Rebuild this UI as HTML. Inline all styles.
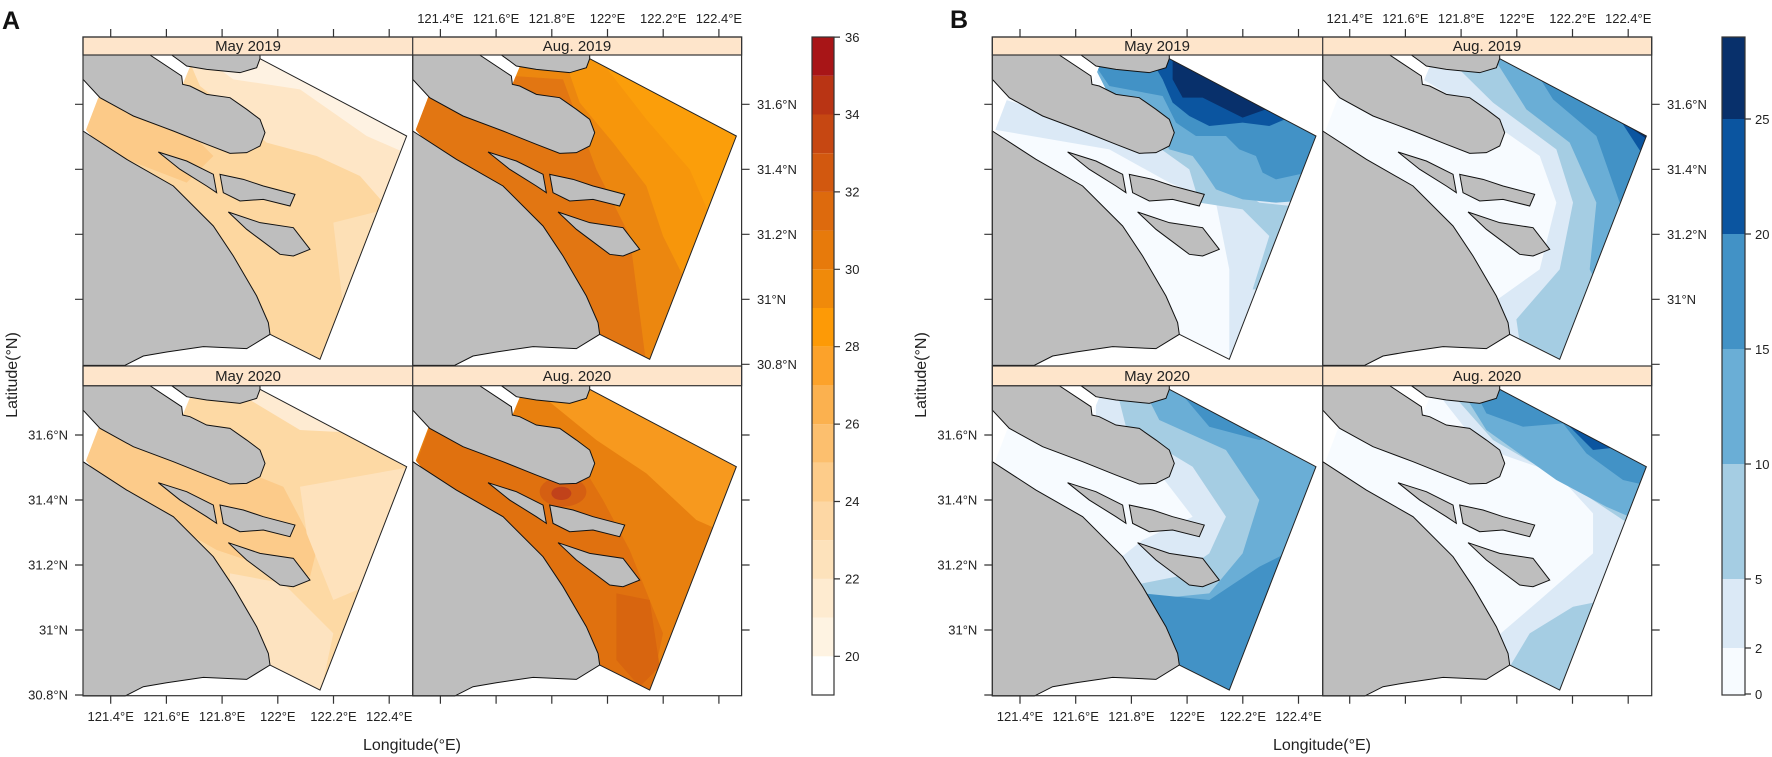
<!DOCTYPE html>
<html><head><meta charset="utf-8"><style>
html,body{margin:0;padding:0;background:#fff}
svg{display:block}
text{font-family:"Liberation Sans",Arial,sans-serif;fill:#222}
</style></head><body>
<svg width="1772" height="757" viewBox="0 0 1772 757" xmlns="http://www.w3.org/2000/svg">
<defs>
<clipPath id="wc"><polygon points="258,482 300,372 548,345 575,280 780,268 1220,500 960,1170 810,1095"/></clipPath>
<g id="land" fill="#bebebe" stroke="#111" stroke-width="3">
<polygon points="249,257 450,257 545,320 548,345 570,350 620,375 690,385 740,420 780,450 795,490 780,530 740,550 690,552 620,525 520,485 400,440 300,385 249,330"/>
<polygon points="515,257 540,275 560,290 620,300 720,310 770,295 780,268 780,257"/>
<polygon points="249,485 380,570 520,650 640,770 700,860 770,980 805,1060 810,1095 740,1138 610,1132 500,1148 430,1160 375,1188 249,1188"/>
<polygon points="475,548 560,575 640,615 650,670 620,650 540,600"/>
<polygon points="660,615 730,630 790,650 885,675 870,710 790,690 720,695 670,670"/>
<polygon points="685,728 780,760 880,775 930,840 880,860 840,855 780,810 740,780"/>
</g>
<polyline id="wl" points="780,268 1220,500 960,1170 810,1095" fill="none" stroke="#222" stroke-width="3"/>
</defs>

<g transform="translate(83,55) scale(0.33333) translate(-249,-257)">
<g clip-path="url(#wc)"><rect x="249" y="257" width="988" height="931" fill="#fdd7a0"/>
<polygon fill="#fcca88" points="249,380 500,420 640,560 560,640 249,520"/>
<polygon fill="#fee6c6" points="560,257 1237,257 1237,700 1150,700 1080,620 950,560 800,520 700,430 600,350"/>
<polygon fill="#fef2e2" points="600,257 1237,257 1237,560 1100,500 900,360 700,330"/>
<polygon fill="#fde0b6" points="1000,760 1237,700 1237,1188 1050,1188"/>
</g>
<use href="#land"/><use href="#wl"/></g>
<g transform="translate(412.7,55) scale(0.33333) translate(-249,-257)">
<g clip-path="url(#wc)"><rect x="249" y="257" width="988" height="931" fill="#ec870f"/>
<polygon fill="#e27612" points="249,300 700,330 800,600 900,800 950,1188 249,1188"/>
<polygon fill="#f7960b" points="700,257 1237,257 1237,1000 1100,1000 1000,800 950,650 850,520 750,400"/>
<polygon fill="#fb9e0a" points="800,257 1237,257 1237,800 1150,760 1080,600 950,450"/>
</g>
<use href="#land"/><use href="#wl"/></g>
<g transform="translate(83,385.7) scale(0.33333) translate(-249,-257)">
<g clip-path="url(#wc)"><rect x="249" y="257" width="988" height="931" fill="#fdd9a4"/>
<polygon fill="#fccb8a" points="249,350 560,350 700,500 850,560 950,750 930,830 800,800 650,750 249,520"/>
<polygon fill="#fee2bc" points="900,560 1237,500 1237,800 1000,900 920,700"/>
<polygon fill="#fde3c0" points="690,820 850,850 1000,1000 960,1188 690,1188"/>
<polygon fill="#feebd2" points="650,257 1237,257 1237,480 1100,400 900,390 750,300"/>
</g>
<use href="#land"/><use href="#wl"/></g>
<g transform="translate(412.7,385.7) scale(0.33333) translate(-249,-257)">
<g clip-path="url(#wc)"><rect x="249" y="257" width="988" height="931" fill="#e8800f"/>
<polygon fill="#f7991e" points="600,257 1237,257 1237,720 1100,660 950,520 800,420"/>
<polygon fill="#f9a73a" points="800,257 1237,257 1237,500 1100,440 950,330"/>
<polygon fill="#e0710f" points="300,380 650,430 760,500 820,600 900,750 1000,1000 960,1188 800,1188 700,900 500,650 249,520"/>
<polygon fill="#d8650f" points="860,880 960,900 990,1100 930,1160 860,1080"/>
<ellipse cx="700" cy="575" rx="70" ry="45" fill="#d55f12"/>
<ellipse cx="695" cy="580" rx="30" ry="20" fill="#c1421a"/>
</g>
<use href="#land"/><use href="#wl"/></g>

<g transform="translate(992.3,55) scale(0.33333) translate(-249,-257)">
<g clip-path="url(#wc)"><rect x="249" y="257" width="988" height="931" fill="#f7fbff"/>
<polygon fill="#dbe9f6" points="250,380 550,470 750,540 950,560 1237,500 1237,1188 960,1188 960,900 920,700 780,640 600,540 250,480"/>
<polygon fill="#a5cde3" points="700,500 900,520 960,640 1050,700 1237,720 1237,800 1120,880 1060,960 1030,960 1080,800 1000,720 870,700 840,600"/>
<polygon fill="#6aaed6" points="540,262 1060,262 1237,500 1237,690 1100,700 1000,690 920,660 880,600 850,560 780,540 740,480 600,380"/>
<polygon fill="#4292c6" points="540,262 1020,262 1237,500 1237,600 1100,630 1060,610 1040,560 990,540 950,500 860,500 800,460 760,380 600,350"/>
<polygon fill="#0b55a0" points="720,262 1010,262 1150,440 1080,470 1000,460 900,470 840,440 790,400 760,330"/>
<polygon fill="#08306b" points="790,262 990,262 1070,420 1000,445 880,385 820,385 790,330"/>
</g>
<use href="#land"/><use href="#wl"/></g>
<g transform="translate(1322.7,55) scale(0.33333) translate(-249,-257)">
<g clip-path="url(#wc)"><rect x="249" y="257" width="988" height="931" fill="#f7fbff"/>
<polygon fill="#dbe9f6" points="500,262 1237,262 1237,1188 820,1188 760,1000 900,900 950,700 900,560 700,420 550,330"/>
<polygon fill="#a5cde3" points="620,262 1237,262 1237,1188 850,1188 830,1050 960,900 1000,700 950,540 760,400"/>
<polygon fill="#6aaed6" points="760,262 1237,262 1237,1100 1100,1000 1050,900 1070,700 990,520 860,420"/>
<polygon fill="#4292c6" points="860,262 1237,262 1237,950 1160,900 1140,700 1070,500 940,390"/>
<polygon fill="#0b55a0" points="930,262 1237,262 1237,880 1190,850 1190,700 1237,600 1140,450 990,350"/>
<polygon fill="#08306b" points="1000,262 1237,262 1237,520 1150,460 1050,380"/>
</g>
<use href="#land"/><use href="#wl"/></g>
<g transform="translate(992.3,385.7) scale(0.33333) translate(-249,-257)">
<g clip-path="url(#wc)"><rect x="249" y="257" width="988" height="931" fill="#f7fbff"/>
<polygon fill="#dbe9f6" points="560,262 1237,262 1237,1188 600,1188 600,800 700,720 850,650 750,520 560,400"/>
<polygon fill="#a5cde3" points="620,262 1237,262 1237,1188 650,1188 650,860 800,830 900,760 950,650 850,500 650,380"/>
<polygon fill="#6aaed6" points="700,262 1237,262 1237,1188 700,1188 700,900 900,880 1000,760 1050,600 950,450 750,360"/>
<polygon fill="#4292c6" points="720,1188 700,880 900,900 1050,800 1150,750 1237,700 1237,1188"/>
<polygon fill="#4292c6" points="800,262 1000,262 1150,400 1050,420 900,380"/>
<polygon fill="#0b55a0" points="900,262 1050,262 1100,330 1000,340"/>
<polygon fill="#08306b" points="960,262 1030,262 1060,310 1000,300"/>
</g>
<use href="#land"/><use href="#wl"/></g>
<g transform="translate(1322.7,385.7) scale(0.33333) translate(-249,-257)">
<g clip-path="url(#wc)"><rect x="249" y="257" width="988" height="931" fill="#f7fbff"/>
<polygon fill="#dbe9f6" points="580,262 1237,262 1237,1188 800,1188 760,1020 900,900 1060,760 1060,640 950,520 720,440"/>
<polygon fill="#a5cde3" points="620,262 1237,262 1237,850 1100,900 1000,920 870,1000 810,1100 900,1188 1237,1188 1237,700 1150,660 1000,560 760,420"/>
<polygon fill="#6aaed6" points="660,262 1237,262 1237,680 1100,620 950,540 740,390"/>
<polygon fill="#4292c6" points="700,262 1100,262 1237,430 1237,560 1150,540 1040,460 970,370 850,380 740,340"/>
<polygon fill="#0b55a0" points="980,300 1110,350 1150,440 1060,450 990,380"/>
</g>
<use href="#land"/><use href="#wl"/></g>

<g stroke="#333" stroke-width="1.2" fill="#fee5cb">
<rect x="83" y="37" width="658.6" height="18"/><rect x="83" y="366" width="658.6" height="19.7"/>
<rect x="992.3" y="37" width="659.4" height="18"/><rect x="992.3" y="366" width="659.4" height="19.7"/>
</g>
<g stroke="#333" stroke-width="1.2" fill="none">
<rect x="83" y="37" width="658.6" height="658.7"/><line x1="412.7" y1="37" x2="412.7" y2="695.7"/>
<rect x="992.3" y="37" width="659.4" height="658.7"/><line x1="1322.7" y1="37" x2="1322.7" y2="695.7"/>
</g>
<g font-size="15" text-anchor="middle">
<text x="248" y="51">May 2019</text><text x="577" y="51">Aug. 2019</text>
<text x="248" y="381">May 2020</text><text x="577" y="381">Aug. 2020</text>
<text x="1157" y="51">May 2019</text><text x="1487" y="51">Aug. 2019</text>
<text x="1157" y="381">May 2020</text><text x="1487" y="381">Aug. 2020</text>
</g>

<g stroke="#333" stroke-width="1.2">
<path d="M110.7 37v-8M166.4 37v-8M222.1 37v-8M277.8 37v-8M333.5 37v-8M389.2 37v-8M440.4 37v-8M496.1 37v-8M551.8 37v-8M607.5 37v-8M663.2 37v-8M718.9 37v-8"/>
<path d="M110.7 695.7v8M166.4 695.7v8M222.1 695.7v8M277.8 695.7v8M333.5 695.7v8M389.2 695.7v8M440.4 695.7v8M496.1 695.7v8M551.8 695.7v8M607.5 695.7v8M663.2 695.7v8M718.9 695.7v8"/>
<path d="M83 104.3h-8M83 169.3h-8M83 234.3h-8M83 299.3h-8M83 435h-8M83 500h-8M83 565h-8M83 630h-8M83 695h-8"/>
<path d="M741.6 104.3h8M741.6 169.3h8M741.6 234.3h8M741.6 299.3h8M741.6 364.3h8M741.6 435h8M741.6 500h8M741.6 565h8M741.6 630h8"/>
</g>
<g stroke="#333" stroke-width="1.2" transform="translate(909.3,0)">
<path d="M110.7 37v-8M166.4 37v-8M222.1 37v-8M277.8 37v-8M333.5 37v-8M389.2 37v-8M440.4 37v-8M496.1 37v-8M551.8 37v-8M607.5 37v-8M663.2 37v-8M718.9 37v-8"/>
<path d="M110.7 695.7v8M166.4 695.7v8M222.1 695.7v8M277.8 695.7v8M333.5 695.7v8M389.2 695.7v8M440.4 695.7v8M496.1 695.7v8M551.8 695.7v8M607.5 695.7v8M663.2 695.7v8M718.9 695.7v8"/>
<path d="M83 104.3h-8M83 169.3h-8M83 234.3h-8M83 299.3h-8M83 435h-8M83 500h-8M83 565h-8M83 630h-8M83 695h-8"/>
<path d="M742.4 104.3h8M742.4 169.3h8M742.4 234.3h8M742.4 299.3h8M742.4 364.3h8M742.4 435h8M742.4 500h8M742.4 565h8M742.4 630h8"/>
</g>

<g font-size="13" text-anchor="middle">
<text x="440.4" y="23">121.4°E</text><text x="496.1" y="23">121.6°E</text><text x="551.8" y="23">121.8°E</text><text x="607.5" y="23">122°E</text><text x="663.2" y="23">122.2°E</text><text x="718.9" y="23">122.4°E</text>
<text x="110.7" y="721">121.4°E</text><text x="166.4" y="721">121.6°E</text><text x="222.1" y="721">121.8°E</text><text x="277.8" y="721">122°E</text><text x="333.5" y="721">122.2°E</text><text x="389.2" y="721">122.4°E</text>
</g>
<g font-size="13" text-anchor="end">
<text x="68" y="439.5">31.6°N</text><text x="68" y="504.5">31.4°N</text><text x="68" y="569.5">31.2°N</text><text x="68" y="634.5">31°N</text><text x="68" y="699.5">30.8°N</text>
</g>
<g font-size="13">
<text x="757" y="108.8">31.6°N</text><text x="757" y="173.8">31.4°N</text><text x="757" y="238.8">31.2°N</text><text x="757" y="303.8">31°N</text><text x="757" y="368.8">30.8°N</text>
</g>
<g font-size="13" text-anchor="middle" transform="translate(909.3,0)">
<text x="440.4" y="23">121.4°E</text><text x="496.1" y="23">121.6°E</text><text x="551.8" y="23">121.8°E</text><text x="607.5" y="23">122°E</text><text x="663.2" y="23">122.2°E</text><text x="718.9" y="23">122.4°E</text>
<text x="110.7" y="721">121.4°E</text><text x="166.4" y="721">121.6°E</text><text x="222.1" y="721">121.8°E</text><text x="277.8" y="721">122°E</text><text x="333.5" y="721">122.2°E</text><text x="389.2" y="721">122.4°E</text>
</g>
<g font-size="13" text-anchor="end" transform="translate(909.3,0)">
<text x="68" y="439.5">31.6°N</text><text x="68" y="504.5">31.4°N</text><text x="68" y="569.5">31.2°N</text><text x="68" y="634.5">31°N</text>
</g>
<g font-size="13" transform="translate(910,0)">
<text x="757" y="108.8">31.6°N</text><text x="757" y="173.8">31.4°N</text><text x="757" y="238.8">31.2°N</text><text x="757" y="303.8">31°N</text>
</g>

<g font-size="16" text-anchor="middle">
<text x="412" y="750">Longitude(°E)</text>
<text x="1322" y="750">Longitude(°E)</text>
<text transform="translate(17,375) rotate(-90)">Latitude(°N)</text>
<text transform="translate(926,375) rotate(-90)">Latitude(°N)</text>
</g>
<text x="2" y="29" font-size="25" font-weight="bold" style="fill:#111">A</text>
<text x="950" y="28" font-size="25" font-weight="bold" style="fill:#111">B</text>

<g>
<rect x="812" y="656.3" width="22" height="38.7" fill="#ffffff"/>
<rect x="812" y="617.6" width="22" height="38.7" fill="#fef3e2"/>
<rect x="812" y="578.9" width="22" height="38.7" fill="#feebd0"/>
<rect x="812" y="540.2" width="22" height="38.7" fill="#fde2bb"/>
<rect x="812" y="501.5" width="22" height="38.7" fill="#fdd7a4"/>
<rect x="812" y="462.8" width="22" height="38.7" fill="#fdcc8a"/>
<rect x="812" y="424.1" width="22" height="38.7" fill="#fcbf6e"/>
<rect x="812" y="385.4" width="22" height="38.7" fill="#fbb14f"/>
<rect x="812" y="346.7" width="22" height="38.7" fill="#fca22a"/>
<rect x="812" y="308.0" width="22" height="38.7" fill="#fd9a06"/>
<rect x="812" y="269.3" width="22" height="38.7" fill="#f08a0a"/>
<rect x="812" y="230.6" width="22" height="38.7" fill="#e77a0b"/>
<rect x="812" y="191.9" width="22" height="38.7" fill="#dd6a0d"/>
<rect x="812" y="153.2" width="22" height="38.7" fill="#d2580f"/>
<rect x="812" y="114.5" width="22" height="38.7" fill="#c64712"/>
<rect x="812" y="75.8" width="22" height="38.7" fill="#b93414"/>
<rect x="812" y="37" width="22" height="38.8" fill="#a81517"/>
<rect x="812" y="37" width="22" height="658" fill="none" stroke="#333" stroke-width="1.2"/>
<path d="M834 656.3h6M834 578.9h6M834 501.5h6M834 424.1h6M834 346.7h6M834 269.3h6M834 191.9h6M834 114.5h6M834 37.1h6" stroke="#333" stroke-width="1.2"/>
<g font-size="13"><text x="845" y="661">20</text><text x="845" y="583.5">22</text><text x="845" y="506">24</text><text x="845" y="428.5">26</text><text x="845" y="351">28</text><text x="845" y="274">30</text><text x="845" y="196.5">32</text><text x="845" y="119">34</text><text x="845" y="42">36</text></g>
</g>

<g>
<rect x="1722" y="648" width="23" height="47" fill="#f7fbff"/>
<rect x="1722" y="579" width="23" height="69" fill="#dbe9f6"/>
<rect x="1722" y="464" width="23" height="115" fill="#a5cde3"/>
<rect x="1722" y="349" width="23" height="115" fill="#6aaed6"/>
<rect x="1722" y="234" width="23" height="115" fill="#4292c6"/>
<rect x="1722" y="119" width="23" height="115" fill="#0b55a0"/>
<rect x="1722" y="37" width="23" height="82" fill="#08306b"/>
<rect x="1722" y="37" width="23" height="658" fill="none" stroke="#333" stroke-width="1.2"/>
<path d="M1745 694h6M1745 648h6M1745 579h6M1745 464h6M1745 349h6M1745 234h6M1745 119h6" stroke="#333" stroke-width="1.2"/>
<g font-size="13"><text x="1755" y="699">0</text><text x="1755" y="653">2</text><text x="1755" y="584">5</text><text x="1755" y="469">10</text><text x="1755" y="354">15</text><text x="1755" y="239">20</text><text x="1755" y="124">25</text></g>
</g>
</svg>
</body></html>
